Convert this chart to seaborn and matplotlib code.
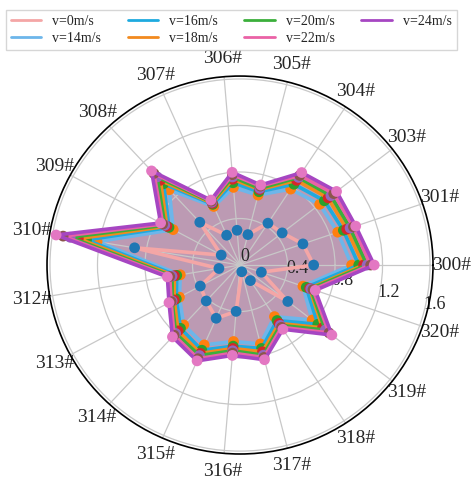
import numpy as np
import matplotlib
matplotlib.use("Agg")
import matplotlib.pyplot as plt
from matplotlib.lines import Line2D
import seaborn as sns

# Monitoring stations around the polar axis
stations = ["300#", "301#", "303#", "304#", "305#", "306#", "307#", "308#", "309#", "310#",
            "312#", "313#", "314#", "315#", "316#", "317#", "318#", "319#", "320#"]

# Response per station for each wind speed
v0 = [0.62, 0.56, 0.45, 0.43, 0.27, 0.30, 0.28, 0.50, 0.18, 0.90,
      0.18, 0.38, 0.42, 0.50, 0.40, 0.06, 0.16, 0.51, 0.19]
v14 = [0.94, 0.87, 0.85, 0.78, 0.62, 0.67, 0.55, 0.88, 0.64, 1.22,
       0.51, 0.58, 0.70, 0.75, 0.66, 0.70, 0.53, 0.77, 0.56]
v16 = [1.00, 0.92, 0.90, 0.83, 0.65, 0.71, 0.57, 0.95, 0.68, 1.31,
       0.54, 0.61, 0.74, 0.80, 0.70, 0.74, 0.57, 0.83, 0.59]
v18 = [1.04, 0.95, 0.94, 0.87, 0.67, 0.74, 0.58, 0.99, 0.70, 1.38,
       0.56, 0.63, 0.77, 0.83, 0.72, 0.77, 0.60, 0.88, 0.62]
v20 = [1.07, 0.98, 0.97, 0.90, 0.68, 0.76, 0.59, 1.03, 0.72, 1.45,
       0.58, 0.65, 0.80, 0.85, 0.74, 0.80, 0.62, 0.91, 0.63]
v22 = [1.10, 1.01, 1.00, 0.92, 0.70, 0.78, 0.60, 1.07, 0.74, 1.51,
       0.60, 0.66, 0.82, 0.88, 0.76, 0.82, 0.64, 0.95, 0.65]
v24 = [1.13, 1.03, 1.03, 0.95, 0.71, 0.80, 0.61, 1.10, 0.76, 1.57,
       0.62, 0.68, 0.84, 0.90, 0.78, 0.84, 0.66, 0.98, 0.67]

speed_labels = ["v=0m/s", "v=14m/s", "v=16m/s", "v=18m/s", "v=20m/s", "v=22m/s", "v=24m/s"]
r_ticks = [0, 0.4, 0.8, 1.2, 1.6]
r_tick_labels = ["0", "0.4", "0.8", "1.2", "1.6"]

line_colors = ["#F4A6A6", "#6DB6EA", "#1EAADF", "#F28A1E", "#3BAF3B", "#EA62A6", "#A646C2"]
marker_colors = ["#1f77b4", "#ff7f0e", "#2ca02c", "#d62728", "#9467bd", "#8c564b", "#e377c2"]

sns.set_style("white")
plt.rcParams["font.family"] = ["Liberation Serif", "DejaVu Serif"]
plt.rcParams["axes.axisbelow"] = "line"

fig = plt.figure(figsize=(4.72, 4.79), dpi=100)
ax = fig.add_axes([0.0996, 0.0522, 0.8178, 0.789], projection="polar")
ax.set_aspect("auto")

series = [v0, v14, v16, v18, v20, v22, v24]
n = len(stations)
theta = np.linspace(0, 2 * np.pi, n, endpoint=False)
theta_closed = np.append(theta, theta[0])

# shaded envelope of the outermost speed
outer = np.append(v24, v24[0])
ax.fill(theta_closed, outer, color="#B792AD", alpha=0.92, lw=0, zorder=1)

for i, (vals, lc, mc) in enumerate(zip(series, line_colors, marker_colors)):
    closed = np.append(vals, vals[0])
    sns.lineplot(x=theta_closed, y=closed, sort=False, estimator=None, ax=ax,
                 color=lc, lw=2.6, zorder=2 + i * 0.1)
    sns.scatterplot(x=theta, y=vals, ax=ax, color=mc, s=60, edgecolor="none",
                    zorder=2.05 + i * 0.1, legend=False)

ax.set_xlabel("")
ax.set_ylabel("")
ax.set_xticks(theta)
ax.set_xticklabels(stations, fontsize=14)
ax.tick_params(axis="x", pad=2.5)
ax.set_ylim(0, 1.625)
ax.set_yticks(r_ticks)
ax.set_yticklabels(r_tick_labels, fontsize=13)
ax.set_rlabel_position(-15)
ax.grid(True, color="#c8c8c8", lw=0.9)
ax.spines["polar"].set_color("black")
ax.spines["polar"].set_linewidth(1.2)

handles = [Line2D([], [], color=c, lw=2) for c in line_colors]
fig.legend(handles, speed_labels, loc="upper center", bbox_to_anchor=(0.49, 0.993),
           ncol=4, fontsize=10, frameon=True, fancybox=False, edgecolor="#cccccc",
           handlelength=2.2, columnspacing=1.9, labelspacing=0.3, borderpad=0.35)

fig.savefig("out.png", dpi=100)
